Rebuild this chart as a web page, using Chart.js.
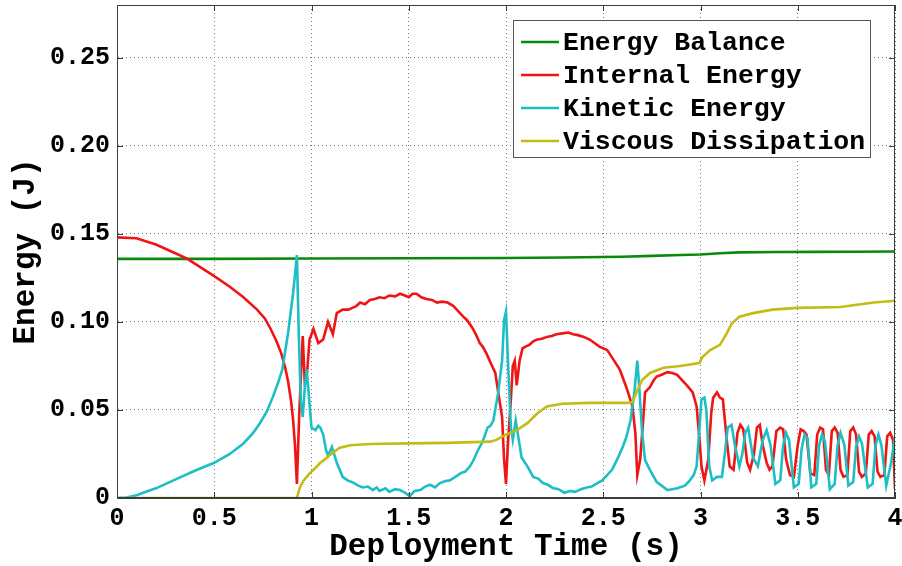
<!DOCTYPE html>
<html>
<head>
<meta charset="utf-8">
<script src="https://cdn.jsdelivr.net/npm/chart.js@4/dist/chart.umd.min.js"></script>
<style>
  html, body { margin: 0; padding: 0; background: #fff; }
  #wrap { width: 902px; height: 566px; }
</style>
</head>
<body>
<div id="wrap"><canvas id="energyChart"></canvas></div>
<script>
// tick marks
const xTicks = [0, 0.5, 1, 1.5, 2, 2.5, 3, 3.5, 4];
const yTicks = [0, 0.05, 0.10, 0.15, 0.20, 0.25];

// Energy Balance
const tBalance = [0, 0.5, 1.0, 1.5, 2.0, 2.3, 2.6, 2.75, 2.9, 3.0, 3.1, 3.2, 3.4, 3.6, 3.8, 4.0];
const balance = [0.1358, 0.1358, 0.1360, 0.1362, 0.1363, 0.1366, 0.1370, 0.1375, 0.1380, 0.1383, 0.1390, 0.1395, 0.1397, 0.1398, 0.1399, 0.1400];

// Internal Energy
const tInternal = [0, 0.1, 0.2, 0.3, 0.36, 0.43, 0.5, 0.58, 0.65, 0.72, 0.76, 0.79, 0.82, 0.845, 0.865, 0.88, 0.895, 0.905, 0.915, 0.925, 0.937, 0.948, 0.955, 0.965, 0.977, 0.99,
  1.01, 1.035, 1.06, 1.085, 1.11, 1.13, 1.16, 1.19, 1.21, 1.23, 1.25, 1.275, 1.30, 1.325, 1.35, 1.375, 1.40, 1.43, 1.455, 1.48, 1.50, 1.52, 1.54, 1.565, 1.59, 1.62, 1.645, 1.67, 1.70, 1.73, 1.755, 1.78, 1.80, 1.825, 1.845, 1.865, 1.88, 1.90, 1.92, 1.945, 1.96, 1.98, 1.99,
  2.0, 2.01, 2.025, 2.035, 2.045, 2.055, 2.07, 2.085, 2.10, 2.12, 2.14, 2.16, 2.185, 2.21, 2.235, 2.26, 2.29, 2.32, 2.345, 2.37, 2.40, 2.43, 2.455, 2.48, 2.50, 2.52, 2.55, 2.585, 2.62, 2.65, 2.665, 2.675, 2.69, 2.705, 2.715, 2.74, 2.76, 2.775, 2.80, 2.83, 2.855, 2.88, 2.905, 2.93, 2.96, 2.98, 2.995,
  3.005, 3.02, 3.04, 3.055, 3.065, 3.085, 3.10, 3.115, 3.135, 3.15, 3.17, 3.19, 3.205, 3.22, 3.24, 3.255, 3.275, 3.29, 3.305, 3.32, 3.34, 3.355, 3.37, 3.39, 3.41, 3.425, 3.44, 3.46, 3.48,
  3.50, 3.515, 3.53, 3.545, 3.565, 3.585, 3.60, 3.615, 3.63, 3.645, 3.66, 3.675, 3.69, 3.705, 3.72, 3.735, 3.755, 3.77, 3.785, 3.80, 3.815, 3.83, 3.85, 3.865, 3.88, 3.895, 3.91, 3.925, 3.945, 3.96, 3.975, 3.99, 4.0];
const internal = [0.148, 0.1475, 0.144, 0.139, 0.136, 0.131, 0.126, 0.120, 0.114, 0.107, 0.102, 0.096, 0.089, 0.082, 0.074, 0.066, 0.055, 0.045, 0.030, 0.008, 0.048, 0.075, 0.092, 0.067, 0.071, 0.090,
  0.096, 0.088, 0.090, 0.100, 0.093, 0.105, 0.107, 0.107, 0.108, 0.109, 0.111, 0.110, 0.1125, 0.113, 0.114, 0.1135, 0.115, 0.1145, 0.116, 0.115, 0.114, 0.116, 0.116, 0.114, 0.113, 0.1125, 0.111, 0.1115, 0.111, 0.109, 0.106, 0.103, 0.101, 0.097, 0.093, 0.088, 0.086, 0.082, 0.077, 0.071, 0.060, 0.046, 0.022,
  0.008, 0.031, 0.056, 0.075, 0.078, 0.064, 0.078, 0.085, 0.086, 0.087, 0.089, 0.090, 0.0905, 0.0915, 0.092, 0.093, 0.0935, 0.094, 0.093, 0.0925, 0.0915, 0.090, 0.088, 0.086, 0.085, 0.084, 0.079, 0.073, 0.0625, 0.052, 0.037, 0.013, 0.022, 0.044, 0.060, 0.063, 0.067, 0.069, 0.070, 0.0715, 0.071, 0.070, 0.067, 0.064, 0.060, 0.052, 0.033,
  0.018, 0.010, 0.022, 0.048, 0.057, 0.060, 0.057, 0.056, 0.033, 0.018, 0.016, 0.037, 0.0415, 0.039, 0.020, 0.016, 0.025, 0.040, 0.0415, 0.030, 0.020, 0.016, 0.018, 0.038, 0.040, 0.039, 0.022, 0.013, 0.012,
  0.030, 0.039, 0.038, 0.036, 0.014, 0.013, 0.036, 0.040, 0.039, 0.016, 0.013, 0.038, 0.040, 0.037, 0.016, 0.012, 0.013, 0.038, 0.040, 0.036, 0.015, 0.012, 0.014, 0.036, 0.038, 0.035, 0.015, 0.012, 0.013, 0.035, 0.037, 0.033, 0.005];

// Kinetic Energy
const tKinetic = [0, 0.05, 0.1, 0.134, 0.2, 0.31, 0.4, 0.5, 0.58, 0.65, 0.70, 0.735, 0.77, 0.80, 0.83, 0.85, 0.88, 0.905, 0.918, 0.925, 0.935, 0.945, 0.955, 0.965, 0.975, 0.985,
  1.0, 1.02, 1.035, 1.045, 1.06, 1.075, 1.085, 1.105, 1.13, 1.16, 1.185, 1.21, 1.24, 1.265, 1.29, 1.315, 1.335, 1.35, 1.38, 1.40, 1.43, 1.455, 1.48, 1.505, 1.53, 1.56, 1.585, 1.61, 1.635, 1.66, 1.685, 1.71, 1.74, 1.765, 1.79, 1.815, 1.835, 1.855, 1.875, 1.89, 1.905, 1.92, 1.935, 1.96, 1.98, 1.99,
  2.0, 2.01, 2.025, 2.035, 2.05, 2.06, 2.08, 2.11, 2.14, 2.165, 2.19, 2.215, 2.24, 2.27, 2.30, 2.33, 2.355, 2.385, 2.415, 2.44, 2.47, 2.495, 2.52, 2.545, 2.57, 2.60, 2.62, 2.64, 2.66, 2.675, 2.685, 2.70, 2.715, 2.74, 2.775, 2.80, 2.83, 2.855, 2.88, 2.92, 2.945, 2.965, 2.98, 2.99,
  3.005, 3.02, 3.03, 3.045, 3.06, 3.085, 3.11, 3.125, 3.14, 3.16, 3.175, 3.20, 3.215, 3.23, 3.245, 3.27, 3.295, 3.32, 3.34, 3.36, 3.385, 3.41, 3.425, 3.44, 3.455, 3.48,
  3.505, 3.52, 3.535, 3.55, 3.57, 3.595, 3.61, 3.625, 3.64, 3.665, 3.69, 3.705, 3.72, 3.74, 3.76, 3.785, 3.80, 3.815, 3.83, 3.86, 3.885, 3.90, 3.915, 3.93, 3.955, 3.98, 4.0];
const kinetic = [0, 0.0003, 0.0015, 0.003, 0.0055, 0.011, 0.0155, 0.020, 0.025, 0.031, 0.037, 0.0425, 0.049, 0.057, 0.066, 0.073, 0.094, 0.116, 0.130, 0.138, 0.0915, 0.055, 0.046, 0.062, 0.073, 0.060,
  0.040, 0.0385, 0.041, 0.040, 0.036, 0.027, 0.024, 0.029, 0.020, 0.012, 0.010, 0.009, 0.007, 0.006, 0.0065, 0.0045, 0.006, 0.004, 0.0055, 0.0035, 0.005, 0.0045, 0.003, 0.001, 0.004, 0.0045, 0.0065, 0.0075, 0.006, 0.0085, 0.0095, 0.010, 0.012, 0.014, 0.015, 0.018, 0.022, 0.027, 0.031, 0.035, 0.040, 0.041, 0.044, 0.060, 0.078, 0.101,
  0.106, 0.078, 0.040, 0.033, 0.044, 0.037, 0.023, 0.018, 0.012, 0.011, 0.0085, 0.0075, 0.0057, 0.005, 0.003, 0.004, 0.0035, 0.005, 0.006, 0.0065, 0.0085, 0.010, 0.013, 0.016, 0.0215, 0.029, 0.035, 0.044, 0.060, 0.078, 0.063, 0.037, 0.0215, 0.016, 0.009, 0.007, 0.0045, 0.005, 0.0055, 0.007, 0.010, 0.013, 0.018, 0.033,
  0.056, 0.057, 0.050, 0.018, 0.010, 0.012, 0.012, 0.025, 0.040, 0.0415, 0.031, 0.018, 0.025, 0.037, 0.040, 0.023, 0.018, 0.033, 0.0385, 0.030, 0.008, 0.010, 0.030, 0.037, 0.033, 0.006,
  0.008, 0.028, 0.036, 0.034, 0.006, 0.008, 0.030, 0.036, 0.032, 0.005, 0.008, 0.030, 0.037, 0.030, 0.007, 0.009, 0.029, 0.035, 0.031, 0.006, 0.008, 0.030, 0.036, 0.030, 0.007, 0.020, 0.035];

// Viscous Dissipation
const tViscous = [0, 0.925, 0.94, 0.96, 0.99, 1.02, 1.045, 1.07, 1.095, 1.145, 1.20, 1.30, 1.50, 1.70, 1.92, 1.95, 2.0, 2.055, 2.11, 2.16, 2.21, 2.29, 2.43, 2.62, 2.65, 2.675, 2.70, 2.74, 2.81, 2.895,
  2.995, 3.01, 3.05, 3.10, 3.135, 3.16, 3.20, 3.27, 3.37, 3.50, 3.72, 3.89, 4.0];
const viscous = [0, 0, 0.006, 0.010, 0.014, 0.017, 0.020, 0.022, 0.0245, 0.0285, 0.030, 0.0307, 0.031, 0.0313, 0.032, 0.033, 0.036, 0.0385, 0.0425, 0.048, 0.052, 0.0535, 0.054, 0.054, 0.0545, 0.061, 0.067, 0.071, 0.074, 0.075,
  0.0767, 0.080, 0.084, 0.087, 0.0935, 0.099, 0.103, 0.105, 0.107, 0.108, 0.1085, 0.111, 0.112];

const FONT = '"Courier New", "Liberation Mono", monospace';

function pts(ts, vs) {
  return ts.map((t, i) => ({ x: t, y: vs[i] }));
}

// box around the plot with inward tick marks, plus the boxed legend
const boxPlugin = {
  id: "boxAndLegend",
  afterDatasetsDraw(chart) {
    const { ctx, chartArea: a, scales } = chart;
    ctx.save();
    ctx.strokeStyle = "#3c3c3c";
    ctx.lineWidth = 1;
    ctx.strokeRect(a.left + 0.5, a.top + 0.5, a.right - a.left - 1, a.bottom - a.top - 1);
    ctx.beginPath();
    xTicks.forEach(v => {
      const px = Math.round(scales.x.getPixelForValue(v)) + 0.5;
      ctx.moveTo(px, a.bottom); ctx.lineTo(px, a.bottom - 6);
      ctx.moveTo(px, a.top); ctx.lineTo(px, a.top + 6);
    });
    yTicks.forEach(v => {
      const py = Math.round(scales.y.getPixelForValue(v)) + 0.5;
      ctx.moveTo(a.left, py); ctx.lineTo(a.left + 6, py);
      ctx.moveTo(a.right, py); ctx.lineTo(a.right - 6, py);
    });
    ctx.stroke();

    // legend
    const lx = a.right - 382, ly = a.top + 15, lw = 357, lh = 137;
    ctx.fillStyle = "#fff";
    ctx.fillRect(lx, ly, lw, lh);
    ctx.strokeStyle = "#555";
    ctx.strokeRect(lx + 0.5, ly + 0.5, lw, lh);
    ctx.font = "bold 26.5px " + FONT;
    ctx.textBaseline = "middle";
    ctx.textAlign = "left";
    chart.data.datasets.forEach((ds, i) => {
      const y = ly + 22 + i * 33;
      ctx.strokeStyle = ds.borderColor;
      ctx.lineWidth = 2.5;
      ctx.beginPath();
      ctx.moveTo(lx + 8, y); ctx.lineTo(lx + 46, y);
      ctx.stroke();
      ctx.fillStyle = "#000";
      ctx.fillText(ds.label, lx + 50, y + 1);
    });
    ctx.restore();
  }
};

const line = (label, ts, vs, color, order) => ({
  label, data: pts(ts, vs), borderColor: color, backgroundColor: color,
  borderWidth: 2.6, pointRadius: 0, tension: 0, fill: false, order
});

new Chart(document.getElementById("energyChart").getContext("2d"), {
  type: "line",
  data: {
    datasets: [
      line("Energy Balance", tBalance, balance, "#0a8a0a", 4),
      line("Internal Energy", tInternal, internal, "#f01414", 3),
      line("Kinetic Energy", tKinetic, kinetic, "#1cbfc4", 2),
      line("Viscous Dissipation", tViscous, viscous, "#c2bc14", 1)
    ]
  },
  options: {
    responsive: true,
    maintainAspectRatio: false,
    animation: false,
    layout: { padding: { left: 0, right: 7, top: 5, bottom: 0 } },
    plugins: {
      legend: { display: false },
      tooltip: { enabled: false }
    },
    scales: {
      x: {
        type: "linear",
        min: 0,
        max: 4,
        afterBuildTicks: s => { s.ticks = xTicks.map(v => ({ value: v })); },
        afterFit: s => { s.height = 68; s.paddingLeft = 0; s.paddingRight = 0; },
        ticks: {
          color: "#000",
          padding: 6,
          maxRotation: 0,
          font: { family: FONT, size: 25, weight: "bold" },
          callback: v => String(v)
        },
        grid: { color: "#777", lineWidth: 1, drawTicks: false },
        border: { display: true, color: "#3c3c3c", dash: [1, 3] },
        title: {
          display: true,
          text: "Deployment Time (s)",
          color: "#000",
          padding: { top: 0, bottom: 0 },
          font: { family: FONT, size: 31, weight: "bold" }
        }
      },
      y: {
        min: 0,
        max: 0.28,
        afterBuildTicks: s => { s.ticks = yTicks.map(v => ({ value: v })); },
        afterFit: s => { s.width = 117; s.paddingTop = 0; s.paddingBottom = 0; },
        ticks: {
          color: "#000",
          padding: 7,
          font: { family: FONT, size: 25, weight: "bold" },
          callback: v => (v === 0 ? "0" : v.toFixed(2))
        },
        grid: { color: "#777", lineWidth: 1, drawTicks: false },
        border: { display: true, color: "#3c3c3c", dash: [1, 3] },
        title: {
          display: true,
          text: "Energy (J)",
          color: "#000",
          padding: { top: 8, bottom: 0 },
          font: { family: FONT, size: 31, weight: "bold" }
        }
      }
    }
  },
  plugins: [boxPlugin]
});
</script>
</body>
</html>
